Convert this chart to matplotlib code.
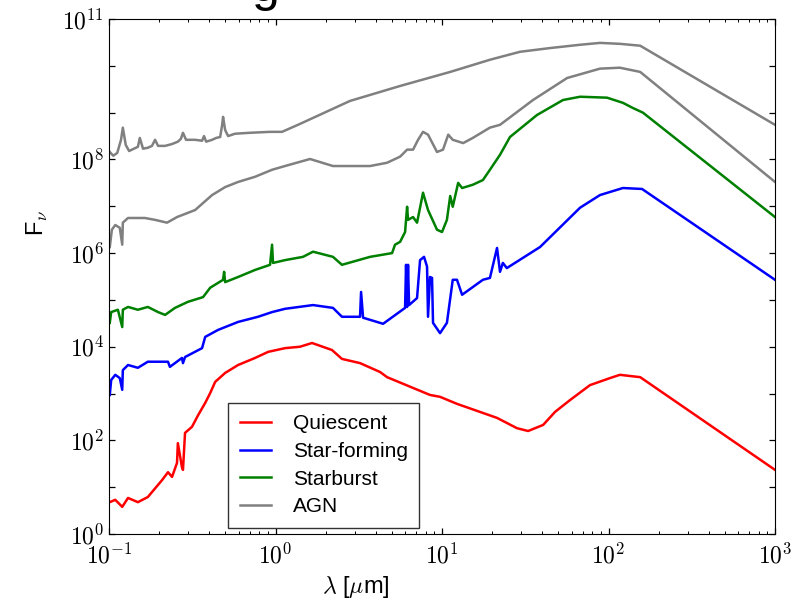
import matplotlib
matplotlib.use('Agg')
import matplotlib.pyplot as plt
import numpy as np
from matplotlib.ticker import LogLocator, NullLocator, FixedLocator, FixedFormatter

plt.rcParams['font.family'] = ['Liberation Sans', 'DejaVu Sans']
plt.rcParams['mathtext.fontset'] = 'cm'

# wavelength [micron] and log10(F_nu)
agn_top_lam = [0.101, 0.106, 0.112, 0.118, 0.121, 0.126, 0.132, 0.141, 0.149, 0.153, 0.160, 0.171,
               0.181, 0.189, 0.197, 0.217, 0.239, 0.259, 0.270, 0.278, 0.290, 0.329, 0.362, 0.372,
               0.383, 0.416, 0.440, 0.465, 0.478, 0.484, 0.498, 0.519, 0.571, 0.703, 0.927, 1.094,
               1.403, 2.799, 5.60, 11.2, 19.4, 29.4, 44.6, 67.5, 88.9, 117, 155, 1000]
agn_top_logf = [8.16, 8.08, 8.14, 8.42, 8.68, 8.31, 8.18, 8.23, 8.27, 8.46, 8.23, 8.25,
                8.29, 8.42, 8.29, 8.29, 8.33, 8.38, 8.44, 8.57, 8.42, 8.42, 8.40, 8.50,
                8.38, 8.42, 8.46, 8.48, 8.74, 8.91, 8.63, 8.50, 8.55, 8.57, 8.59, 8.59,
                8.76, 9.25, 9.57, 9.87, 10.13, 10.30, 10.38, 10.45, 10.49, 10.47, 10.43, 8.74]

agn_low_lam = [0.101, 0.104, 0.109, 0.116, 0.120, 0.121, 0.130, 0.143, 0.164, 0.189, 0.223, 0.256,
               0.329, 0.367, 0.416, 0.498, 0.596, 0.753, 0.953, 1.140, 1.611, 2.213, 3.697, 4.677,
               5.60, 6.17, 6.70, 7.18, 7.69, 8.24, 9.33, 10.14, 10.9, 11.6, 13.4, 15.3, 19.4, 22.3,
               35.2, 56.4, 88.9, 117, 155, 1000]
agn_low_logf = [6.13, 6.50, 6.60, 6.54, 6.18, 6.65, 6.75, 6.75, 6.75, 6.71, 6.65, 6.77,
                6.92, 7.07, 7.24, 7.41, 7.52, 7.63, 7.78, 7.86, 8.01, 7.86, 7.86, 7.93,
                8.06, 8.21, 8.21, 8.42, 8.59, 8.53, 8.16, 8.21, 8.53, 8.42, 8.35, 8.46, 8.68, 8.74,
                9.27, 9.74, 9.94, 9.96, 9.87, 7.52]

sb_lam = [0.101, 0.103, 0.113, 0.120, 0.121, 0.130, 0.149, 0.171, 0.197, 0.217, 0.249, 0.298,
          0.367, 0.405, 0.484, 0.491, 0.498, 0.596, 0.753, 0.927, 0.953, 0.966, 1.140, 1.462,
          1.679, 2.213, 2.506, 3.697, 5.012, 5.22, 5.60, 6.00, 6.17, 6.25, 6.70, 7.08, 7.69,
          8.24, 9.33, 10.0, 10.7, 11.2, 11.6, 12.5, 13.2, 15.3, 17.6, 19.4, 22.3, 25.6, 37.2,
          53.3, 67.5, 98, 122, 140, 161, 1000]
sb_logf = [4.51, 4.74, 4.79, 4.42, 4.79, 4.85, 4.79, 4.85, 4.74, 4.68, 4.83, 4.96,
           5.06, 5.26, 5.43, 5.60, 5.38, 5.49, 5.64, 5.75, 6.18, 5.79, 5.85, 5.92,
           6.03, 5.92, 5.75, 5.92, 6.00, 6.18, 6.24, 6.45, 6.99, 6.71, 6.77, 6.65, 7.29,
           6.92, 6.50, 6.45, 6.71, 7.22, 6.99, 7.50, 7.39, 7.46, 7.56, 7.78, 8.10, 8.48, 8.95,
           9.27, 9.34, 9.32, 9.21, 9.10, 9.00, 6.77]

sf_lam = [0.101, 0.103, 0.109, 0.116, 0.120, 0.121, 0.130, 0.149, 0.171, 0.226, 0.232, 0.274,
          0.278, 0.286, 0.362, 0.378, 0.452, 0.596, 0.785, 0.953, 1.140, 1.679, 2.213, 2.506,
          3.218, 3.264, 3.356, 4.426, 6.00, 6.08, 6.17, 6.25, 6.34, 7.08, 7.38, 7.80, 8.13,
          8.24, 8.47, 8.71, 8.83, 9.73, 10.7, 11.6, 12.3, 13.2, 17.6, 19.4, 21.4, 22.3, 23.2,
          24.5, 38.8, 67.5, 88.9, 122, 159, 1000]
sf_logf = [2.97, 3.29, 3.40, 3.33, 3.08, 3.50, 3.61, 3.55, 3.68, 3.68, 3.57, 3.76,
           3.65, 3.78, 3.97, 4.21, 4.36, 4.53, 4.64, 4.74, 4.81, 4.89, 4.83, 4.64,
           4.64, 5.17, 4.62, 4.49, 4.83, 5.75, 4.85, 5.75, 4.89, 5.04, 5.85, 5.92, 5.71,
           4.64, 5.49, 5.47, 4.51, 4.29, 4.51, 5.43, 5.43, 5.11, 5.43, 5.47, 6.11, 5.60, 5.79,
           5.68, 6.13, 6.97, 7.24, 7.39, 7.37, 5.43]

q_lam = [0.101, 0.109, 0.120, 0.130, 0.149, 0.171, 0.208, 0.226, 0.239, 0.256, 0.259, 0.274,
         0.278, 0.286, 0.315, 0.343, 0.378, 0.405, 0.434, 0.498, 0.596, 0.753, 0.902, 1.140,
         1.403, 1.656, 2.183, 2.506, 3.218, 4.246, 4.677, 8.47, 9.73, 12.3, 21.4, 28.2, 32.9,
         40.5, 47.8, 58.7, 77.4, 102, 117, 155, 1000]
q_logf = [0.68, 0.73, 0.58, 0.77, 0.68, 0.79, 1.15, 1.32, 1.22, 1.52, 1.94, 1.43,
          1.37, 2.16, 2.29, 2.54, 2.80, 3.01, 3.25, 3.44, 3.61, 3.76, 3.89, 3.97,
          4.00, 4.08, 3.93, 3.74, 3.65, 3.46, 3.35, 2.97, 2.93, 2.78, 2.48, 2.26, 2.20,
          2.33, 2.61, 2.86, 3.18, 3.33, 3.40, 3.35, 1.37]

fig = plt.figure(figsize=(7.96, 6.0), dpi=100)
ax = fig.add_axes([0.137, 0.11, 0.8366, 0.8583])

ax.plot(q_lam, 10 ** np.array(q_logf), color='#ff0000', lw=1.8, label='Quiescent')
ax.plot(sf_lam, 10 ** np.array(sf_logf), color='#0000ff', lw=1.8, label='Star-forming')
ax.plot(sb_lam, 10 ** np.array(sb_logf), color='#008000', lw=1.8, label='Starburst')
ax.plot(agn_low_lam, 10 ** np.array(agn_low_logf), color='#808080', lw=1.8, label='AGN')
ax.plot(agn_top_lam, 10 ** np.array(agn_top_logf), color='#808080', lw=1.8)

ax.set_xscale('log')
ax.set_yscale('log')
ax.set_xlim(0.1, 1000)
ax.set_ylim(1, 1e11)

ax.xaxis.set_minor_locator(LogLocator(base=10, subs=np.arange(2, 10), numticks=20))
ax.set_xticks([0.1, 1, 10, 100, 1000])
ax.set_xticklabels([r'$10^{-1}$', r'$10^{0}$', r'$10^{1}$', r'$10^{2}$', r'$10^{3}$'])

yexp = list(range(0, 12))
ylabs = [r'$10^{%d}$' % k if k in (0, 2, 4, 6, 8, 11) else '' for k in yexp]
ax.yaxis.set_major_locator(FixedLocator([10.0 ** k for k in yexp]))
ax.yaxis.set_major_formatter(FixedFormatter(ylabs))
ax.yaxis.set_minor_locator(NullLocator())

ax.tick_params(which='both', direction='in', top=True, right=True, labelsize=17)
ax.tick_params(which='major', length=4, width=0.9)
ax.tick_params(which='minor', length=2, width=0.7)
ax.tick_params(axis='x', pad=7)

ax.set_ylabel(r'F$_\nu$', fontsize=17)
ax.yaxis.set_label_coords(-0.089, 0.605)
ax.set_xlabel(r'$\lambda$ [$\mu$m]', fontsize=17)
ax.xaxis.set_label_coords(0.37, -0.078)

leg = ax.legend(loc='lower left', bbox_to_anchor=(0.179, 0.012), borderaxespad=0, fontsize=15,
                fancybox=False, framealpha=1, edgecolor='#333333', handlelength=1.5,
                borderpad=0.55, labelspacing=0.42, handletextpad=1.05)
leg.get_frame().set_linewidth(1.0)

fig.text(0.334, 1.0 - 1.0 / 600, 'g', fontsize=36, ha='center', va='baseline')

fig.savefig('out.png', dpi=100)
